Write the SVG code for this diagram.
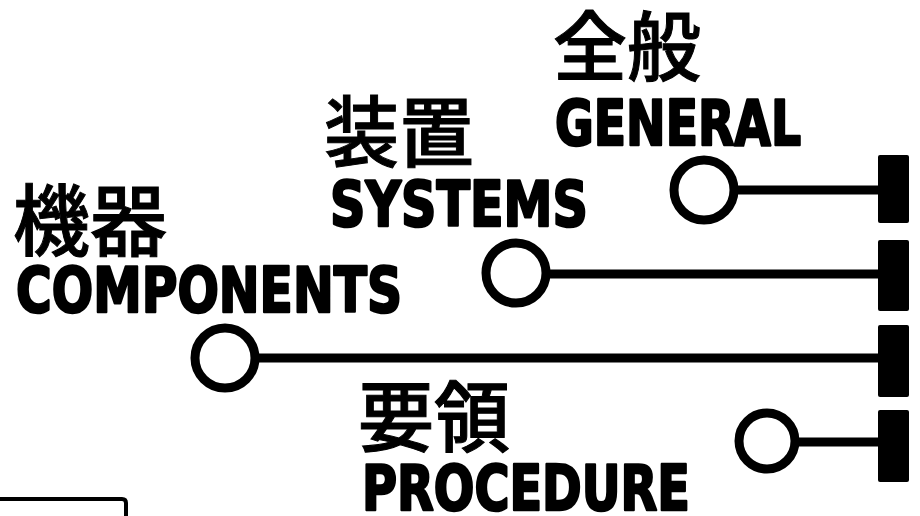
<svg xmlns="http://www.w3.org/2000/svg" width="920" height="516" viewBox="0 0 920 516">
<style>
.cjk{font-family:"Noto Sans CJK JP","Noto Sans CJK TC",sans-serif;font-weight:500;fill:#000;stroke:#000;stroke-width:1}
.lat{font-family:"DejaVu Sans","Liberation Sans",sans-serif;font-weight:bold;fill:#000;stroke:#000;stroke-width:2.6;stroke-linejoin:round}
.ring{fill:#fff;stroke:#000;stroke-width:9}
.wire{stroke:#000;stroke-width:9;fill:none}
.bar{fill:#000}
</style>
<rect width="920" height="516" fill="#fff"/>
<g id="connectors">
<line class="wire" x1="736" y1="190" x2="882" y2="190"/>
<line class="wire" x1="548" y1="274" x2="882" y2="274"/>
<line class="wire" x1="257" y1="358" x2="882" y2="358"/>
<line class="wire" x1="797" y1="442" x2="882" y2="442"/>
<rect class="bar" x="878" y="155" width="31" height="68" rx="2"/>
<rect class="bar" x="878" y="240" width="31" height="71" rx="2"/>
<rect class="bar" x="878" y="325" width="31" height="72" rx="2"/>
<rect class="bar" x="878" y="410" width="31" height="72" rx="2"/>
</g>
<g id="general">
<text class="cjk" x="553" y="75" font-size="76" textLength="148" lengthAdjust="spacingAndGlyphs">全般</text>
<text class="lat" x="555" y="145" font-size="63" textLength="246" lengthAdjust="spacingAndGlyphs">GENERAL</text>
<circle class="ring" cx="704" cy="190" r="30"/>
</g>
<g id="systems">
<text class="cjk" x="324" y="161" font-size="77" textLength="150" lengthAdjust="spacingAndGlyphs">装置</text>
<text class="lat" x="330" y="226" font-size="63" textLength="258" lengthAdjust="spacingAndGlyphs">SYSTEMS</text>
<circle class="ring" cx="516" cy="273" r="30"/>
</g>
<g id="components">
<text class="cjk" x="13" y="250" font-size="78" textLength="154" lengthAdjust="spacingAndGlyphs">機器</text>
<text class="lat" x="16" y="312" font-size="63" textLength="386" lengthAdjust="spacingAndGlyphs">COMPONENTS</text>
<circle class="ring" cx="225" cy="358" r="30"/>
</g>
<g id="procedure">
<text class="cjk" x="358" y="446" font-size="77" textLength="152" lengthAdjust="spacingAndGlyphs">要領</text>
<text class="lat" x="362" y="510" font-size="63" textLength="328" lengthAdjust="spacingAndGlyphs">PROCEDURE</text>
<circle class="ring" cx="767" cy="441" r="28"/>
</g>
<g id="frame">
<path d="M0 499 H122 Q126 499 126 503 V516" fill="none" stroke="#000" stroke-width="4"/>
</g>
</svg>
